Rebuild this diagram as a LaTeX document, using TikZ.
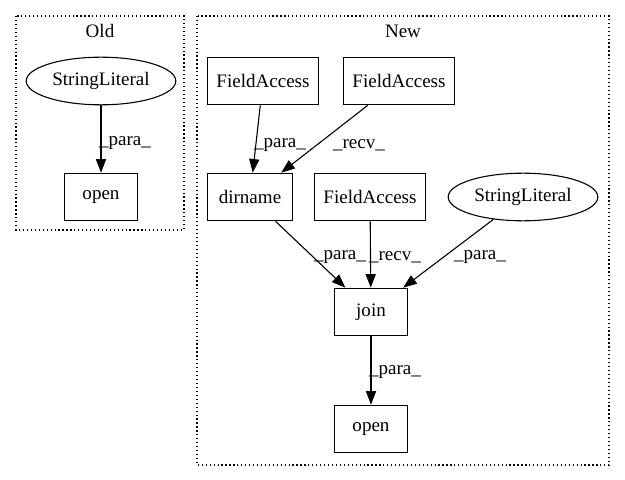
\documentclass[tikz,border=0pt]{standalone}
\usepackage{fontspec}
\setmainfont{Liberation Serif}
\usetikzlibrary{arrows.meta, shapes.geometric}

\begin{document}
\begin{tikzpicture}[x=0.735pt, y=-0.735pt, line width=0.8pt,
    every node/.style = {font=\fontsize{14}{16}\selectfont},
    box/.style = {draw, rectangle, minimum height=35pt, inner sep=0pt},
    lit/.style = {draw, ellipse, minimum width=110pt, minimum height=35pt, inner sep=0pt},
    cluster/.style = {draw, dotted, line width=0.9pt},
    edge/.style = {-{Triangle[length=10pt, width=7.5pt]}}]
    \useasboundingbox (0, 0) rectangle (625, 480);
%    \tikzstyle{every node} = [draw]
    \draw [cluster] (16, 16) rectangle (184, 230);
    \draw [cluster] (197, 16) rectangle (609, 465);
    \node (oldlabel) at (100, 31) {Old};
    \node (newlabel) at (403, 31) {New};
    \node [lit] (oldlit) at (101, 81) {StringLiteral};
    \node [box, minimum width=53pt] (oldopen) at (101, 197) {open};
    \node [box, minimum width=82pt] (fa1) at (263, 81) {FieldAccess};
    \node [box, minimum width=82pt] (fa2) at (399, 81) {FieldAccess};
    \node [box, minimum width=62pt] (dirname) at (250, 197) {dirname};
    \node [box, minimum width=82pt] (fa3) at (370, 197) {FieldAccess};
    \node [lit] (newlit) at (523, 197) {StringLiteral};
    \node [box, minimum width=53pt] (join) at (371, 312) {join};
    \node [box, minimum width=53pt] (newopen) at (371, 429) {open};
    \draw [edge] (oldlit) -- (oldopen);
    \draw [edge] (fa1) -- (dirname);
    \draw [edge] (fa2) -- (dirname);
    \draw [edge] (dirname) -- (join);
    \draw [edge] (fa3) -- (join);
    \draw [edge] (newlit) -- (join);
    \draw [edge] (join) -- (newopen);
    \node (l1) at (125, 143) {\_para\_};
    \node (l2) at (280, 145) {\_para\_};
    \node (l3) at (359, 145) {\_recv\_};
    \node (l4) at (340, 257) {\_para\_};
    \node (l5) at (395, 257) {\_recv\_};
    \node (l6) at (480, 257) {\_para\_};
    \node (l7) at (395, 372) {\_para\_};
  \end{tikzpicture}
\end{document}
